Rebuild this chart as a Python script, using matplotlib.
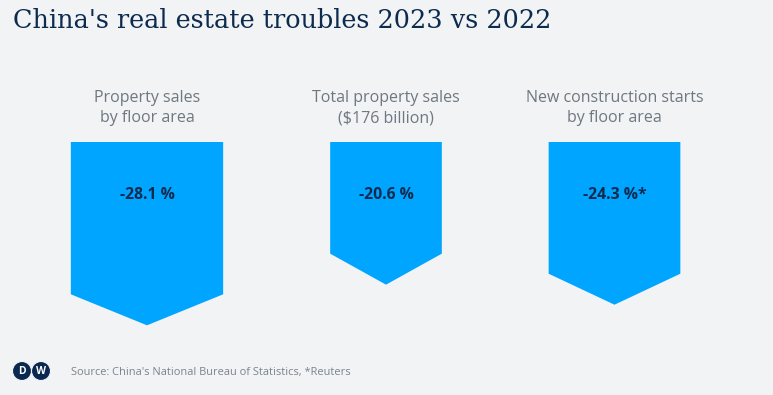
import matplotlib
matplotlib.use("Agg")
import matplotlib.pyplot as plt
from matplotlib.patches import Polygon, Circle

# Datos
categorias = ["Property sales\nby floor area",
              "Total property sales\n($176 billion)",
              "New construction starts\nby floor area"]
valores = [-28.1, -20.6, -24.3]
etiquetas_valor = ["-28.1 %", "-20.6 %", "-24.3 %*"]

titulo = "China's real estate troubles 2023 vs 2022"
fuente = "Source: China's National Bureau of Statistics, *Reuters"

# Estilo
fondo = "#f1f3f5"
azul = "#00a5ff"
marino = "#0c2b4e"
gris = "#6f7780"

W, H = 773, 395
fig = plt.figure(figsize=(W / 100, H / 100), dpi=100, facecolor=fondo)
ax = fig.add_axes([0, 0, 1, 1])
ax.set_xlim(0, W)
ax.set_ylim(H, 0)
ax.set_facecolor(fondo)
ax.axis("off")

# Flechas: cuerpo cuadrado de lado proporcional al valor + punta fija
centros = [147, 386, 614.5]
escala = 5.42   # px por punto porcentual
y_top = 142
punta = 31

for cx, v, cat, lab in zip(centros, valores, categorias, etiquetas_valor):
    lado = abs(v) * escala
    x0, x1 = cx - lado / 2, cx + lado / 2
    y_hombro = y_top + lado
    verts = [(x0, y_top), (x1, y_top), (x1, y_hombro),
             (cx, y_hombro + punta), (x0, y_hombro)]
    ax.add_patch(Polygon(verts, closed=True, facecolor=azul, edgecolor="none"))
    ax.text(cx, 195, lab, ha="center", va="center", fontsize=11.3,
            fontweight="bold", color=marino, family="Open Sans")
    ax.text(cx, 108, cat, ha="center", va="center", fontsize=11.5,
            color=gris, family="Open Sans", linespacing=1.35)

# Título
ax.text(13, 20, titulo, ha="left", va="center", fontsize=18.4,
        color=marino, family="DejaVu Serif")

# Logo DW
for cx_l, letra in [(22, "D"), (41, "W")]:
    ax.add_patch(Circle((cx_l, 371), 9.5, facecolor="#0a2850",
                        edgecolor=fondo, linewidth=0.8))
for cx_l, letra in [(22, "D"), (41, "W")]:
    ax.text(cx_l, 371.5, letra, ha="center", va="center", fontsize=7.5,
            fontweight="bold", color="white", family="Open Sans")

# Fuente
ax.text(71, 372, fuente, ha="left", va="center", fontsize=7.9,
        color="#7a838c", family="Open Sans")

fig.savefig("out.png", dpi=100, facecolor=fondo)
